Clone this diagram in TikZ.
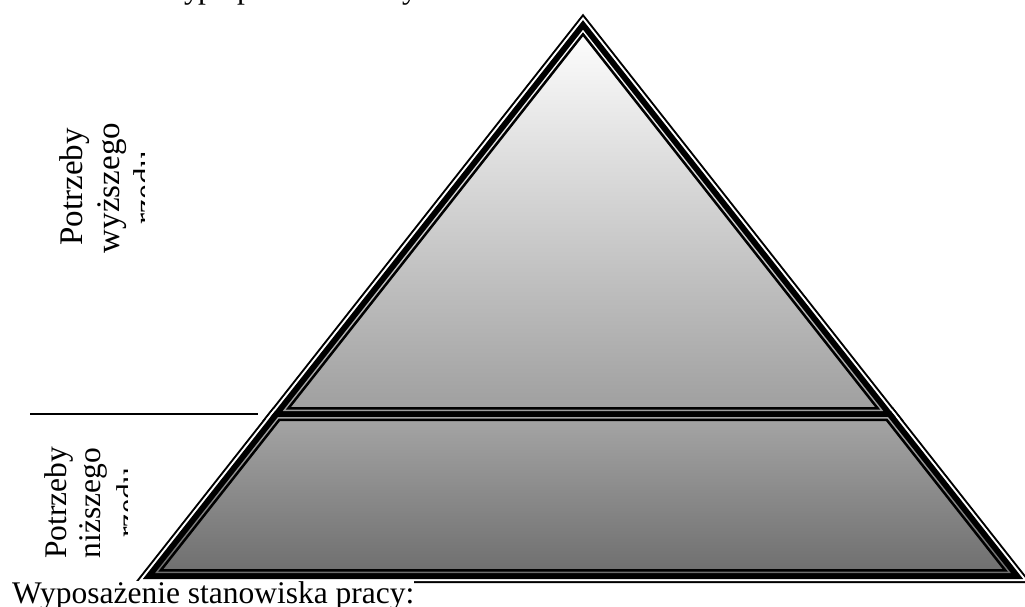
\documentclass[tikz,border=0pt]{standalone}
\usepackage{fontspec}
\setmainfont{Liberation Serif}
\definecolor{upbot}{gray}{0.62}
\definecolor{lotop}{gray}{0.65}
\definecolor{lobot}{gray}{0.43}
\newcommand\mkpoly[2]{%
 \pgfmathsetmacro\myay{25+1.6161*(#1)}%
 \pgfmathsetmacro\myht{414-(#1)}%
 \pgfmathsetmacro\myhb{414+(#1)}%
 \pgfmathsetmacro\myhz{576-(#1)}%
 \pgfmathsetmacro\myxa{(473.456+(#1)-0.61877*\myht)/0.78557}%
 \pgfmathsetmacro\myxb{(442.518-(#1)+0.61877*\myht)/0.78557}%
 \pgfmathsetmacro\myxc{(473.456+(#1)-0.61877*\myhb)/0.78557}%
 \pgfmathsetmacro\myxd{(442.518-(#1)+0.61877*\myhb)/0.78557}%
 \pgfmathsetmacro\myxe{(473.456+(#1)-0.61877*\myhz)/0.78557}%
 \pgfmathsetmacro\myxf{(442.518-(#1)+0.61877*\myhz)/0.78557}%
 \coordinate (#2t1) at (583,\myay);%
 \coordinate (#2t2) at (\myxa,\myht);%
 \coordinate (#2t3) at (\myxb,\myht);%
 \coordinate (#2q1) at (\myxc,\myhb);%
 \coordinate (#2q2) at (\myxd,\myhb);%
 \coordinate (#2q3) at (\myxf,\myhz);%
 \coordinate (#2q4) at (\myxe,\myhz);%
}
\begin{document}
\begin{tikzpicture}[x=1pt,y=-1pt,
  lbl/.style={anchor=base, rotate=90, inner sep=0pt, font=\fontsize{33}{38}\selectfont},
  lbltwo/.style={anchor=base, rotate=90, inner sep=0pt, font=\fontsize{31.5}{37}\selectfont},
  toptxt/.style={anchor=base west, inner sep=0pt, font=\fontsize{31.5}{36}\selectfont}]
\useasboundingbox (0,0) rectangle (1025,606);
\clip (0,0) rectangle (1025,606);
\fill[white] (0,0) rectangle (1025,606);
% clipped letters of the line above
\node[toptxt] (ty1) at (184,-1.5) {y};
\node[toptxt] (tp1) at (198,-1.5) {p};
\node[toptxt] (tp2) at (237,-1.5) {p};
\node[toptxt] (ty2) at (402,-1.5) {y};
% offset outlines
\mkpoly{-7}{a}
\mkpoly{-5}{b}
\mkpoly{-3}{c}
\mkpoly{3}{d}
\mkpoly{5.75}{e}
\fill[black] (at1)--(at2)--(at3)--cycle;
\fill[black] (aq1)--(aq2)--(aq3)--(aq4)--cycle;
\fill[white] (bt1)--(bt2)--(bt3)--cycle;
\fill[white] (bq1)--(bq2)--(bq3)--(bq4)--cycle;
\fill[black] (ct1)--(ct2)--(ct3)--cycle;
\fill[black] (cq1)--(cq2)--(cq3)--(cq4)--cycle;
\begin{scope}
\clip (dt1)--(dt2)--(dt3)--cycle;
\shade[top color=white, bottom color=upbot] (140,25) rectangle (1030,414);
\end{scope}
\begin{scope}
\clip (dq1)--(dq2)--(dq3)--(dq4)--cycle;
\shade[top color=lotop, bottom color=lobot] (140,414) rectangle (1030,576);
\end{scope}
\draw[line width=2.5pt, miter limit=20] (et1)--(et2)--(et3)--cycle;
\draw[line width=2.5pt, miter limit=20] (eq1)--(eq2)--(eq3)--(eq4)--cycle;
% left divider line
\coordinate (hl1) at (30,414);
\coordinate (hl2) at (258,414);
\draw[line width=1.5pt] (hl1) -- (hl2);
% upper label
\node[lbl] (u1) at (82,187) {Potrzeby};
\node[lbl] (u2) at (119,188) {wyższego};
\begin{scope}
\clip (0,0) rectangle (144,606);
\node[lbl] (u3) at (156.5,188) {rzędu};
\end{scope}
% lower label
\node[lbltwo] (l1) at (66,503) {Potrzeby};
\node[lbltwo] (l2) at (100,503) {niższego};
\begin{scope}
\clip (0,0) rectangle (127,606);
\node[lbltwo] (l3) at (138,503) {rzędu};
\end{scope}
% bottom caption
\node[anchor=base west, fill=white, inner sep=0pt, font=\fontsize{31.5}{36}\selectfont] (cap) at (12,603) {Wyposażenie stanowiska pracy:};
\end{tikzpicture}
\end{document}
